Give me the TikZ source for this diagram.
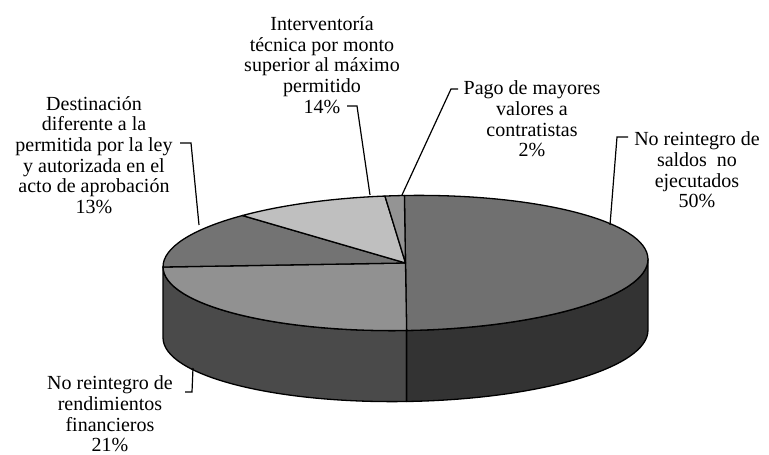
\documentclass[tikz,border=0pt]{standalone}
\usepackage{fontspec}
\setmainfont{Liberation Serif}
\begin{document}
\begin{tikzpicture}[x=1pt,y=1pt,
  edge/.style={draw=black,line width=1.3pt,line join=round},
  leader/.style={draw=black,line width=1.2pt},
  lab/.style={align=center,inner sep=0pt,font=\fontsize{20}{20.7}\selectfont},
  ell/.style={x radius=242.5pt,y radius=67.5pt}]
\useasboundingbox (0,0) rectangle (769,455);
\begin{scope}[shift={(405.5,192)},rotate=0.95]
  % side walls
  \path[edge,fill=black!71] (180:242.5pt and 67.5pt) arc[ell,start angle=180,end angle=270]
     -- ++(-1.18pt,-71pt) arc[ell,start angle=270,end angle=180] -- cycle;
  \path[edge,fill=black!80] (270:242.5pt and 67.5pt) arc[ell,start angle=270,end angle=360]
     -- ++(-1.18pt,-71pt) arc[ell,start angle=360,end angle=270] -- cycle;
  % top sectors
  \coordinate (ctr) at (0,0);
  \path[edge,fill=black!56] (ctr) -- (90:242.5pt and 67.5pt) arc[ell,start angle=90,end angle=-90] -- cycle;
  \path[edge,fill=black!43] (ctr) -- (-90:242.5pt and 67.5pt) arc[ell,start angle=-90,end angle=-180] -- cycle;
  \path[edge,fill=black!55] (ctr) -- (180:242.5pt and 67.5pt) arc[ell,start angle=180,end angle=132] -- cycle;
  \path[edge,fill=black!25] (ctr) -- (132:242.5pt and 67.5pt) arc[ell,start angle=132,end angle=94.6] -- cycle;
  \path[edge,fill=black!42] (ctr) -- (94.6:242.5pt and 67.5pt) arc[ell,start angle=94.6,end angle=90] -- cycle;
\end{scope}
% labels
\node[lab] (l50) at (697,285) {No reintegro de\\saldos~ no\\ejecutados\\50\%};
\node[lab] (l2)  at (532,336) {Pago de mayores\\valores a\\contratistas\\2\%};
\node[lab] (l14) at (322,390) {Interventoría\\técnica por monto\\superior al máximo\\permitido\\14\%};
\node[lab] (l13) at (94,300)  {Destinación\\diferente a la\\permitida por la ley\\y autorizada en el\\acto de aprobación\\13\%};
\node[lab] (l21) at (110,41)  {No reintegro de\\rendimientos\\financieros\\21\%};
% leader coordinates
\coordinate (p50) at (610,230); \coordinate (k50) at (617,318); \coordinate (e50) at (628,318);
\coordinate (p2)  at (402,260); \coordinate (k2)  at (451,366); \coordinate (e2)  at (458,366);
\coordinate (p14) at (370,260); \coordinate (k14) at (357,349); \coordinate (e14) at (347,349);
\coordinate (p13) at (199,230); \coordinate (k13) at (191,312); \coordinate (e13) at (180,312);
\coordinate (p21) at (193,87);  \coordinate (k21) at (192,63);  \coordinate (e21) at (185,63);
\draw[leader] (p50) -- (k50) -- (e50);
\draw[leader] (p2) -- (k2) -- (e2);
\draw[leader] (p14) -- (k14) -- (e14);
\draw[leader] (p13) -- (k13) -- (e13);
\draw[leader] (p21) -- (k21) -- (e21);
\end{tikzpicture}
\end{document}
